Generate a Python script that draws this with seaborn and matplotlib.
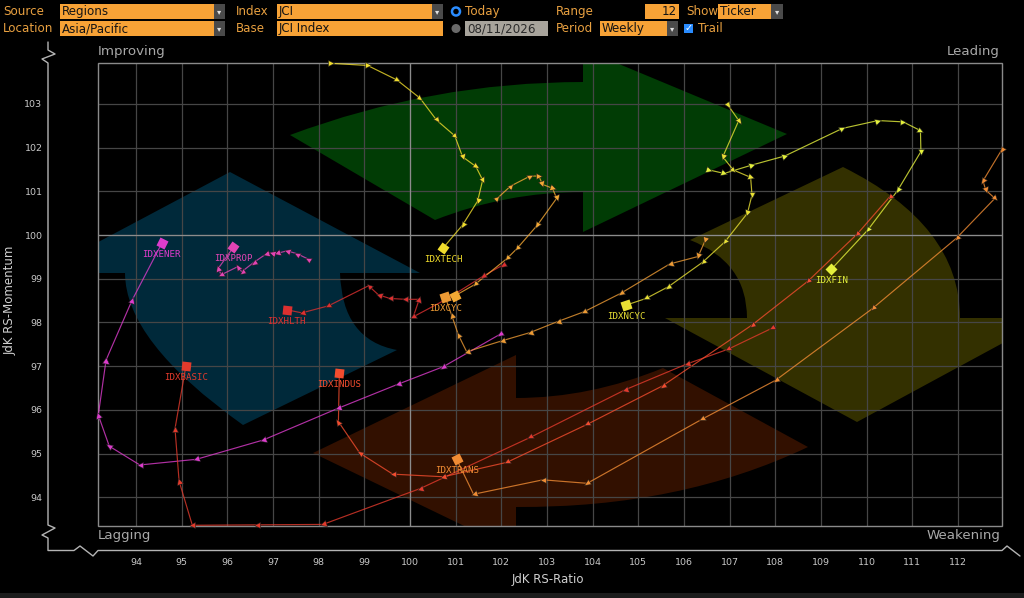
import numpy as np
import pandas as pd
import matplotlib
matplotlib.use("Agg")
import matplotlib.pyplot as plt
import matplotlib.transforms as mtransforms
from matplotlib.path import Path
from matplotlib.patches import PathPatch, Rectangle, Circle
from matplotlib.markers import MarkerStyle
from matplotlib.lines import Line2D
from matplotlib import font_manager
import seaborn as sns

# ==========================================
# Data (JdK RS-Ratio / RS-Momentum, 12 weekly points, oldest -> latest)
# ==========================================

tickers = ["IDXENER", "IDXPROP", "IDXHLTH", "IDXBASIC", "IDXINDUS", "IDXTRANS",
           "IDXCYC", "IDXINFRA", "IDXTECH", "IDXNCYC", "IDXFIN"]

ener_x = [101.97, 100.73, 99.74, 98.43, 96.78, 95.32, 94.08, 93.41, 93.17, 93.34, 93.91, 94.56]
ener_y = [97.73, 96.99, 96.59, 96.04, 95.31, 94.87, 94.74, 95.17, 95.88, 97.14, 98.51, 99.81]

prop_x = [97.77, 97.53, 97.31, 97.08, 96.98, 96.85, 96.57, 96.31, 96.23, 95.86, 95.80, 96.13]
prop_y = [99.45, 99.57, 99.64, 99.58, 99.60, 99.57, 99.37, 99.16, 99.28, 99.09, 99.24, 99.72]

hlth_x = [102.04, 101.60, 100.81, 100.07, 100.20, 99.89, 99.56, 99.31, 99.09, 98.21, 97.63, 97.30]
hlth_y = [99.32, 99.06, 98.54, 98.13, 98.53, 98.53, 98.55, 98.63, 98.84, 98.38, 98.22, 98.29]

basic_x = [107.93, 106.97, 106.06, 104.71, 102.63, 100.22, 98.09, 96.64, 95.23, 94.94, 94.85, 95.09]
basic_y = [97.87, 97.39, 97.05, 96.46, 95.37, 94.20, 93.38, 93.37, 93.36, 94.37, 95.57, 97.01]

indus_x = [110.51, 109.80, 108.72, 107.50, 105.53, 103.88, 102.12, 100.73, 99.62, 98.90, 98.43, 98.45]
indus_y = [100.88, 100.03, 98.95, 97.95, 96.55, 95.67, 94.80, 94.47, 94.53, 95.01, 95.73, 96.84]

trans_x = [112.96, 112.55, 112.61, 112.81, 111.97, 110.13, 108.01, 106.40, 103.88, 102.91, 101.39, 101.02]
trans_y = [101.95, 101.24, 101.03, 100.84, 99.93, 98.32, 96.68, 95.79, 94.32, 94.40, 94.07, 94.87]

cyc_x = [106.47, 106.31, 105.69, 104.62, 103.82, 103.23, 102.63, 102.01, 101.24, 101.06, 100.91, 100.77]
cyc_y = [99.89, 99.51, 99.34, 98.67, 98.25, 98.02, 97.77, 97.58, 97.33, 97.71, 98.17, 98.58]

infra_x = [101.91, 102.20, 102.63, 102.82, 102.90, 103.12, 103.21, 102.79, 102.35, 102.13, 101.42, 100.98]
infra_y = [100.84, 101.12, 101.35, 101.35, 101.16, 101.07, 100.84, 100.23, 99.70, 99.47, 98.87, 98.61]

tech_x = [98.26, 99.07, 99.71, 100.22, 100.58, 100.98, 101.15, 101.44, 101.59, 101.48, 101.15, 100.72]
tech_y = [103.93, 103.88, 103.55, 103.13, 102.63, 102.27, 101.79, 101.57, 101.26, 100.78, 100.23, 99.70]

ncyc_x = [106.96, 107.20, 106.85, 107.08, 107.46, 107.49, 107.39, 106.90, 106.41, 105.66, 105.17, 104.74]
ncyc_y = [102.98, 102.62, 101.79, 101.49, 101.32, 100.92, 100.50, 99.85, 99.38, 98.82, 98.55, 98.40]

fin_x = [106.55, 106.88, 107.48, 108.21, 109.47, 110.25, 110.80, 111.18, 111.19, 110.68, 110.03, 109.23]
fin_y = [101.49, 101.41, 101.60, 101.81, 102.44, 102.62, 102.59, 102.39, 101.91, 101.02, 100.12, 99.22]

series_x = [ener_x, prop_x, hlth_x, basic_x, indus_x, trans_x, cyc_x, infra_x, tech_x, ncyc_x, fin_x]
series_y = [ener_y, prop_y, hlth_y, basic_y, indus_y, trans_y, cyc_y, infra_y, tech_y, ncyc_y, fin_y]

# tickers whose label is hidden behind another one
hidden_labels = ["IDXINFRA"]

x_ticks = list(range(94, 113))
y_ticks = list(range(94, 104))

colors = {
    "IDXENER": "#dc3ccc",
    "IDXPROP": "#e244b4",
    "IDXHLTH": "#dc3030",
    "IDXBASIC": "#e23a2c",
    "IDXINDUS": "#f24c2e",
    "IDXTRANS": "#f08c34",
    "IDXCYC": "#ec9a34",
    "IDXINFRA": "#f4a834",
    "IDXTECH": "#f0dc2c",
    "IDXNCYC": "#e8e034",
    "IDXFIN": "#e4f03c",
}

rows = []
for t, xs, ys in zip(tickers, series_x, series_y):
    for i, (xv, yv) in enumerate(zip(xs, ys)):
        rows.append({"ticker": t, "step": i, "ratio": xv, "momentum": yv})
df = pd.DataFrame(rows)

# ==========================================
# Style
# ==========================================

sns.set_style("dark", {"axes.facecolor": "black", "figure.facecolor": "black"})
names = {f.name for f in font_manager.fontManager.ttflist}
ui_font = "Liberation Sans Narrow" if "Liberation Sans Narrow" in names else "DejaVu Sans"
plt.rcParams["font.family"] = [ui_font, "DejaVu Sans"]
narrow = ui_font != "DejaVu Sans"

fig = plt.figure(figsize=(10.24, 5.98), dpi=100, facecolor="black")
# reference-pixel coordinates (origin top-left)
px = mtransforms.Affine2D().scale(1 / 1024, -1 / 598).translate(0, 1) + fig.transFigure

ax = fig.add_axes([98.3 / 1024, 1 - 525.5 / 598,
                   (1001.7 - 98.3) / 1024, (525.5 - 63.3) / 598])
ax.set_facecolor("black")
ax.set_xlim(93.17, 112.96)
ax.set_ylim(93.355, 103.93)

# ==========================================
# Quadrant rotation arrows (background)
# ==========================================

def arrow_patch(spec, color):
    verts, codes = [], []
    for item in spec:
        kind = item[0]
        if kind == "M":
            verts.append(item[1]); codes.append(Path.MOVETO)
        elif kind == "L":
            verts.append(item[1]); codes.append(Path.LINETO)
        elif kind == "Q":
            verts += [item[1], item[2]]; codes += [Path.CURVE3, Path.CURVE3]
    verts.append(verts[0]); codes.append(Path.CLOSEPOLY)
    p = PathPatch(Path(verts, codes), facecolor=color, edgecolor="none",
                  transform=px, zorder=0.2)
    ax.add_patch(p)
    p.set_clip_path(ax.patch)

arrow_patch([("M", (290, 135)), ("Q", (432, 82), (583, 82)), ("L", (583, 49)),
             ("L", (787, 134)), ("L", (583, 232)), ("L", (583, 192)),
             ("Q", (506, 192), (435, 220))], "#013c05")
arrow_patch([("M", (843, 167)), ("Q", (960, 225), (960, 318)), ("L", (1049, 318)),
             ("L", (857, 422)), ("L", (665, 318)), ("L", (747, 318)),
             ("Q", (747, 262), (690, 240))], "#333000")
arrow_patch([("M", (243, 425)), ("Q", (125, 341), (125, 273)), ("L", (40, 273)),
             ("L", (230, 172)), ("L", (420, 273)), ("L", (340, 273)),
             ("Q", (342, 340), (397, 350))], "#00293a")
arrow_patch([("M", (808, 447)), ("Q", (680, 508), (516, 507)), ("L", (516, 551)),
             ("L", (313, 453)), ("L", (516, 355)), ("L", (516, 398)),
             ("Q", (590, 398), (663, 368))], "#321000")

# ==========================================
# Grid, frame, axes
# ==========================================

ax.set_xticks(x_ticks)
ax.set_xticks(np.arange(93.5, 113, 1), minor=True)
ax.set_yticks(y_ticks)
ax.set_yticks(np.arange(93.5, 104, 1), minor=True)
ax.set_axisbelow(True)
ax.grid(which="major", color="#464646", lw=0.9)
ax.grid(which="minor", visible=False)
ax.axvline(100, color="#8c8c8c", lw=0.9, zorder=0.7)
ax.axhline(100, color="#8c8c8c", lw=0.9, zorder=0.7)
ax.add_patch(Rectangle((0, 0), 1, 1, transform=ax.transAxes, fill=False,
                       edgecolor="#8a8a8a", lw=1, zorder=0.8, clip_on=False))

for s in ax.spines.values():
    s.set_visible(False)
ax.spines["left"].set_position(("outward", 36.2))
ax.spines["bottom"].set_position(("outward", 18.1))

tick_size = 7.5 if narrow else 6.8
ax.tick_params(axis="y", which="major", direction="out", length=2.5, width=2,
               color="#c0c0c0", labelsize=tick_size, labelcolor="#c8c8c8", pad=1.5)
ax.tick_params(axis="y", which="minor", direction="out", length=3, width=0.8,
               color="#a0a0a0")
ax.tick_params(axis="x", which="major", direction="out", length=2.5, width=2,
               color="#c0c0c0", labelsize=tick_size, labelcolor="#c8c8c8", pad=3)
ax.tick_params(axis="x", which="minor", direction="in", length=3, width=0.8,
               color="#a0a0a0")
ax.set_xlabel("")
ax.set_ylabel("")

frame = [(48, 42), (48, 50), (55, 54), (42, 59), (48, 63), (48, 525), (55, 528),
         (42, 535), (48, 538), (48, 550.5), (74, 550.5), (80, 546), (93, 556),
         (98, 550.5), (1002, 550.5), (1007, 546), (1020, 556)]
fig.add_artist(Line2D([p[0] for p in frame], [p[1] for p in frame], transform=px,
                      color="#b4b4b4", lw=1))

corner_kw = dict(transform=px, color="#a8a8a8", fontsize=10 if narrow else 9.6, va="center")
fig.text(98, 52, "Improving", ha="left", **corner_kw)
fig.text(1000, 52, "Leading", ha="right", **corner_kw)
fig.text(98, 535, "Lagging", ha="left", **corner_kw)
fig.text(1000, 535, "Weakening", ha="right", **corner_kw)

fig.text(548, 580, "JdK RS-Ratio", transform=px, color="#d0d0d0",
         fontsize=9 if narrow else 8.5, ha="center", va="center")
fig.text(10, 300, "JdK RS-Momentum", transform=px, color="#d0d0d0",
         fontsize=9 if narrow else 8.5, ha="center", va="center", rotation=90)

# ==========================================
# Trails
# ==========================================

sns.lineplot(data=df, x="ratio", y="momentum", hue="ticker", units="ticker",
             estimator=None, sort=False, palette=colors, hue_order=tickers,
             legend=False, lw=0.85, alpha=0.8, ax=ax, zorder=3)
ax.set_xlim(93.17, 112.96)
ax.set_ylim(93.355, 103.93)
ax.set_xlabel("")
ax.set_ylabel("")

for t, xs, ys in zip(tickers, series_x, series_y):
    c = colors[t]
    disp = ax.transData.transform(np.column_stack([xs, ys]))
    n = len(xs)
    for i in range(n):
        d = disp[1] - disp[0] if i == 0 else disp[i] - disp[i - 1]
        ang = np.degrees(np.arctan2(d[1], d[0]))
        if i < n - 1:
            ms = MarkerStyle("^", transform=mtransforms.Affine2D().rotate_deg(ang - 90))
            ax.plot(xs[i], ys[i], marker=ms, ms=4.5, color=c, mec="#1c1c1c",
                    mew=0.4, ls="none", clip_on=False, zorder=4)
        else:
            ms = MarkerStyle("s", transform=mtransforms.Affine2D().rotate_deg(ang))
            ax.plot(xs[i], ys[i], marker=ms, ms=6.6, color=c, mec="none",
                    ls="none", clip_on=False, zorder=6)
    if t not in hidden_labels:
        ax.annotate(t, (xs[-1], ys[-1]), xytext=(0, -8.2), textcoords="offset points",
                    ha="center", va="center", color=c, fontsize=6.6,
                    family="DejaVu Sans Mono", zorder=7)

# ==========================================
# Header controls
# ==========================================

orange = "#f7a236"
lab_c = "#e8a040"
hsize = 10 if narrow else 8.6


def box(x0, y0, x1, y1, fc):
    fig.add_artist(Rectangle((x0, y0), x1 - x0, y1 - y0, transform=px,
                             facecolor=fc, edgecolor="none"))


def drop(x0, y0, x1, y1):
    box(x0, y0, x1, y1, "#4a4a4a")
    fig.text((x0 + x1) / 2, (y0 + y1) / 2 + 0.5, "\u25be", transform=px,
             color="#e0e0e0", fontsize=6, ha="center", va="center", family="DejaVu Sans")


def htext(x, y, s, color=lab_c, ha="left"):
    fig.text(x, y, s, transform=px, color=color, fontsize=hsize, ha=ha, va="center")


r1, r2 = 11.5, 28.5
htext(3, r1, "Source")
box(60, 4, 214, 19, orange); htext(62, r1, "Regions", "#141414"); drop(214, 4, 225, 19)
htext(236, r1, "Index")
box(277, 4, 432, 19, orange); htext(279, r1, "JCI", "#141414"); drop(432, 4, 443, 19)
fig.add_artist(Circle((456, r1), 4, transform=px, facecolor="black",
                      edgecolor="#2a8cff", lw=1.8))
htext(465, r1, "Today")
htext(556, r1, "Range")
box(645, 4, 679, 19, orange); htext(677, r1, "12", "#141414", ha="right")
htext(686, r1, "Show")
box(718, 4, 771, 19, orange); htext(720, r1, "Ticker", "#141414"); drop(771, 4, 783, 19)

htext(3, r2, "Location")
box(60, 21, 214, 36, orange); htext(62, r2, "Asia/Pacific", "#141414"); drop(214, 21, 225, 36)
htext(236, r2, "Base")
box(277, 21, 443, 36, orange); htext(279, r2, "JCI Index", "#141414")
fig.add_artist(Circle((456, r2), 4.5, transform=px, facecolor="#6a6a6a", edgecolor="none"))
box(465, 21, 548, 36, "#a8a49c"); htext(467, r2, "08/11/2026", "#2a2a2a")
htext(556, r2, "Period")
box(600, 21, 667, 36, orange); htext(602, r2, "Weekly", "#141414"); drop(667, 21, 678, 36)
box(684, 24, 693, 33, "#2a8cff")
fig.text(688.5, r2, "\u2713", transform=px, color="white", fontsize=7,
         ha="center", va="center", family="DejaVu Sans")
htext(698, r2, "Trail")

box(0, 593, 1024, 598, "#1c1c1c")

fig.savefig("out.png", dpi=100, facecolor="black")
